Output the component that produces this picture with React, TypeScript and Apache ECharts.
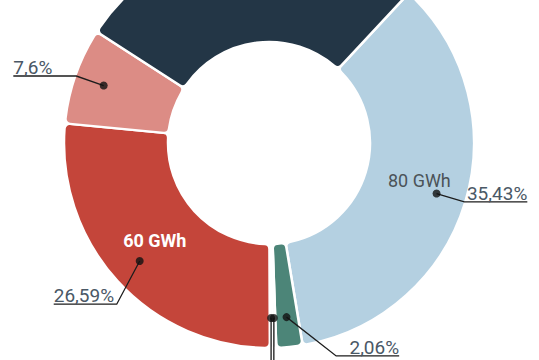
import React, { useEffect, useRef } from "react";
import * as echarts from "echarts";

// ---- data ----
const categories = ["Segment A", "Segment B", "Segment C", "Segment D", "Segment E", "Segment F", "Segment G"];
const shares = [35.43, 2.06, 0.25, 0.25, 26.59, 7.6, 27.82];
const energyLabels = ["80 GWh", "", "", "", "60 GWh", "", ""];
const showPercent = [true, true, false, false, true, true, false];

// ---- styles ----
const colors = ["#b4d0e1", "#4c8578", "#c8c8c8", "#d6d6d6", "#c4453a", "#dc8c85", "#233646"];
const CENTER: [number, number] = [269, 143];
const R_IN = 101;
const R_OUT = 205;
const R_DOT = 175;
const START = 47; // echarts startAngle (deg, ccw from 3 o'clock)
const LEADER_LEN = 29;
const SHELF_LEN = 63;
// leader overrides: direction (deg clockwise from 12 o'clock) and length
const leaderBends: Record<number, { angle: number; len: number }> = {
  1: { angle: 128, len: 63 },
  2: { angle: 180, len: 80 },
  3: { angle: 180, len: 80 },
  4: { angle: 208, len: 49 },
};

const total = shares.reduce((a, b) => a + b, 0);
const cumMid: number[] = [];
{
  let acc = 0;
  shares.forEach((s) => {
    cumMid.push(((acc + s / 2) / total) * 100);
    acc += s;
  });
}
// mid angle, clockwise from 12 o'clock
const midAngles = cumMid.map((p) => 90 - START + p * 3.6);

const fmt = (v: number) => String(v).replace(".", ",") + "%";

export default function App() {
  const ref = useRef<HTMLDivElement>(null);
  useEffect(() => {
    if (!ref.current) return;
    const chart = echarts.init(ref.current, null, { renderer: "svg" });
    const fontFamily = "Roboto, 'Noto Sans', sans-serif";
    chart.setOption({
      animation: false,
      backgroundColor: "#ffffff",
      polar: { center: CENTER, radius: R_OUT },
      angleAxis: {
        type: "value",
        min: 0,
        max: 100,
        startAngle: START,
        clockwise: true,
        show: false,
      },
      radiusAxis: { type: "value", min: 0, max: R_OUT, show: false },
      series: [
        {
          type: "pie",
          center: CENTER,
          radius: [R_IN, R_OUT],
          startAngle: START,
          clockwise: true,
          avoidLabelOverlap: false,
          silent: true,
          itemStyle: { borderColor: "#ffffff", borderWidth: 2.5, borderRadius: 5 },
          label: {
            show: true,
            position: "inside",
            fontFamily,
            fontSize: 18,
            offset: [1, -8],
            formatter: (p: any) => energyLabels[p.dataIndex],
          },
          labelLine: { show: false },
          data: categories.map((name, i) => ({
            name,
            value: shares[i],
            itemStyle: { color: colors[i] },
            label: {
              show: energyLabels[i] !== "",
              color: i === 4 ? "#ffffff" : "#4b5358",
              fontWeight: i === 4 ? "bold" : "normal",
            },
          })),
          z: 2,
        },
        {
          type: "pie",
          center: CENTER,
          radius: [0, R_DOT],
          startAngle: START,
          clockwise: true,
          avoidLabelOverlap: false,
          silent: true,
          itemStyle: { color: "rgba(0,0,0,0)" },
          label: {
            show: true,
            position: "outside",
            fontFamily,
            fontSize: 19,
            color: "#4a5866",
            formatter: (p: any) => (showPercent[p.dataIndex] ? fmt(shares[p.dataIndex]) : ""),
          },
          labelLine: {
            show: true,
            length: LEADER_LEN,
            length2: SHELF_LEN,
            lineStyle: { color: "#1c1c1c", width: 1.3 },
          },
          labelLayout: (params: any) => {
            const i = params.dataIndex;
            const mid = (midAngles[i] * Math.PI) / 180;
            const p0 = params.labelLinePoints
              ? params.labelLinePoints[0]
              : [CENTER[0] + R_DOT * Math.sin(mid), CENTER[1] - R_DOT * Math.cos(mid)];
            const bend = leaderBends[i] || { angle: midAngles[i], len: LEADER_LEN };
            const a = (bend.angle * Math.PI) / 180;
            const p1 = [p0[0] + bend.len * Math.sin(a), p0[1] - bend.len * Math.cos(a)];
            const side = Math.sin(mid) >= 0 ? 1 : -1;
            const p2 = [p1[0] + side * SHELF_LEN, p1[1]];
            return {
              x: p2[0],
              y: p1[1] + 1,
              align: side > 0 ? "right" : "left",
              verticalAlign: "bottom",
              labelLinePoints: [p0, p1, p2],
            };
          },
          data: categories.map((name, i) => ({
            name,
            value: shares[i],
            label: { show: i !== 6 },
            labelLine: { show: i !== 6 },
          })),
          z: 3,
        },
        {
          type: "scatter",
          coordinateSystem: "polar",
          symbol: "circle",
          symbolSize: 8,
          silent: true,
          itemStyle: { color: "#111111" },
          data: cumMid.map((p, i) => (i === 6 ? null : [R_DOT, p])).filter((d) => d !== null),
          z: 4,
        },
      ],
    });
    return () => chart.dispose();
  }, []);
  return (
    <div
      ref={ref}
      style={{ position: "absolute", left: 0, top: 0, width: 539, height: 360 }}
    />
  );
}
